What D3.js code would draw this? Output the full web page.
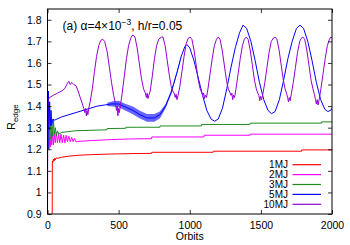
<!DOCTYPE html>
<html>
<head>
<meta charset="utf-8">
<script src="https://cdn.jsdelivr.net/npm/d3@7"></script>
<style>
    body { margin: 0; background: #fff; }
    text { font-family: "Liberation Sans", Arial, sans-serif; fill: #000; }
    .tick-label { font-size: 10.5px; }
</style>
</head>
<body>
<svg id="chart"></svg>
<script>
// ---- data: [orbit, R_edge] ----
const seriesNames = ['1MJ', '2MJ', '3MJ', '5MJ', '10MJ'];
const seriesColors = ['#ff0000', '#ff00ff', '#1f8a1f', '#0000ff', '#9400d3'];

const xTicks = [0, 500, 1000, 1500, 2000];
const yTicks = [0.9, 1.0, 1.1, 1.2, 1.3, 1.4, 1.5, 1.6, 1.7, 1.8];

const data1MJ = [[33, 0.9], [34, 1.145], [38, 1.14], [42, 1.155], [46, 1.145], [50, 1.158], [55, 1.15],
    [60, 1.16], [70, 1.158], [100, 1.163], [150, 1.168], [215, 1.172], [300, 1.175], [451, 1.178],
    [600, 1.18], [732, 1.181], [733, 1.186], [1165, 1.186], [1166, 1.191], [1786, 1.191],
    [1787, 1.197], [2000, 1.197]];

const data2MJ = [[12, 1.20], [15, 1.26], [20, 1.21], [25, 1.27], [30, 1.22], [36, 1.28], [42, 1.22],
    [48, 1.27], [55, 1.23], [62, 1.28], [70, 1.23], [78, 1.27], [86, 1.23], [95, 1.27], [104, 1.23],
    [113, 1.265], [122, 1.23], [131, 1.265], [140, 1.235], [150, 1.26], [160, 1.235], [170, 1.255],
    [180, 1.235], [190, 1.25], [200, 1.235], [210, 1.236], [300, 1.24], [451, 1.245], [600, 1.248],
    [732, 1.249], [733, 1.257], [1100, 1.257], [1101, 1.265], [1423, 1.265], [1424, 1.27], [2000, 1.27]];

const data3MJ = [[8, 1.20], [10, 1.22], [13, 1.30], [17, 1.24], [22, 1.33], [27, 1.25], [32, 1.31],
    [37, 1.26], [42, 1.34], [47, 1.27], [55, 1.30], [62, 1.26], [70, 1.285], [80, 1.27], [100, 1.278],
    [200, 1.286], [418, 1.29], [419, 1.296], [550, 1.297], [551, 1.302], [790, 1.302], [791, 1.308],
    [1083, 1.308], [1084, 1.315], [1423, 1.315], [1424, 1.321], [1927, 1.321], [1928, 1.327], [2000, 1.327]];

const data5MJ = [[5, 1.20], [7, 1.47], [10, 1.29], [15, 1.42], [20, 1.31], [25, 1.38], [30, 1.31],
    [38, 1.34], [50, 1.335], [100, 1.35], [150, 1.36], [200, 1.37], [250, 1.38], [300, 1.39],
    [350, 1.40], [400, 1.405], [450, 1.41], [500, 1.41], [550, 1.395], [600, 1.38], [650, 1.36],
    [700, 1.345], [750, 1.345], [790, 1.36], [830, 1.40], [870, 1.465], [910, 1.555], [940, 1.63],
    [965, 1.675], [980, 1.685], [1000, 1.67], [1030, 1.61], [1060, 1.53], [1090, 1.45], [1120, 1.38],
    [1150, 1.34], [1175, 1.33], [1200, 1.34], [1230, 1.39], [1260, 1.48], [1290, 1.58], [1320, 1.67],
    [1350, 1.74], [1375, 1.775], [1400, 1.76], [1430, 1.70], [1460, 1.61], [1490, 1.51], [1520, 1.43],
    [1550, 1.38], [1575, 1.365], [1600, 1.375], [1630, 1.43], [1660, 1.52], [1690, 1.62], [1720, 1.70],
    [1750, 1.76], [1775, 1.775], [1800, 1.76], [1830, 1.70], [1860, 1.61], [1890, 1.51], [1920, 1.43],
    [1950, 1.385], [1970, 1.375], [1990, 1.38], [2000, 1.39]];

// the noisy stretch of the 5MJ run: [orbit, low, high]
const band5MJ = [[420, 1.40, 1.415], [460, 1.398, 1.422], [500, 1.395, 1.425], [550, 1.378, 1.41],
    [600, 1.362, 1.398], [650, 1.342, 1.378], [700, 1.327, 1.363], [750, 1.327, 1.363], [790, 1.343, 1.375],
    [830, 1.39, 1.41], [870, 1.456, 1.474], [910, 1.548, 1.562], [940, 1.625, 1.635]];

const data10MJ = [[0, 0.9], [2, 1.40], [5, 1.43], [15, 1.44], [40, 1.45], [70, 1.46], [100, 1.47],
    [120, 1.48], [140, 1.505], [150, 1.515], [160, 1.50], [170, 1.51], [185, 1.50], [200, 1.495],
    [215, 1.47], [230, 1.44], [245, 1.41], [255, 1.39], [262, 1.37], [268, 1.39], [273, 1.355],
    [278, 1.38], [284, 1.36], [290, 1.39], [300, 1.42], [315, 1.48], [330, 1.56], [345, 1.63],
    [360, 1.68], [375, 1.705], [388, 1.71], [402, 1.70], [420, 1.65], [435, 1.58], [450, 1.51],
    [465, 1.45], [478, 1.41], [485, 1.38], [490, 1.40], [495, 1.355], [500, 1.39], [505, 1.37],
    [512, 1.40], [525, 1.46], [540, 1.54], [555, 1.62], [570, 1.68], [585, 1.715], [600, 1.73],
    [615, 1.72], [630, 1.67], [645, 1.60], [660, 1.53], [675, 1.48], [688, 1.46], [695, 1.44],
    [700, 1.46], [706, 1.435], [712, 1.45], [722, 1.47], [737, 1.54], [752, 1.62], [767, 1.68],
    [782, 1.71], [800, 1.72], [812, 1.72], [827, 1.68], [842, 1.61], [857, 1.54], [870, 1.49],
    [880, 1.47], [890, 1.46], [898, 1.44], [904, 1.455], [910, 1.43], [918, 1.45], [930, 1.49],
    [945, 1.56], [960, 1.63], [975, 1.69], [990, 1.715], [1002, 1.72],
    [1015, 1.71], [1030, 1.66], [1045, 1.59], [1060, 1.52], [1073, 1.48], [1083, 1.465], [1092, 1.45],
    [1098, 1.46], [1104, 1.435], [1110, 1.45], [1118, 1.44], [1128, 1.48], [1143, 1.55], [1158, 1.62],
    [1173, 1.68], [1188, 1.71], [1200, 1.72],
    [1213, 1.71], [1228, 1.66], [1243, 1.59], [1258, 1.52], [1271, 1.48], [1281, 1.465], [1290, 1.45],
    [1296, 1.46], [1302, 1.43], [1308, 1.45], [1315, 1.44], [1325, 1.48], [1340, 1.55], [1355, 1.62],
    [1370, 1.68], [1384, 1.71], [1396, 1.72],
    [1410, 1.71], [1425, 1.66], [1440, 1.59], [1455, 1.52], [1468, 1.48], [1478, 1.46], [1486, 1.45],
    [1492, 1.425], [1498, 1.445], [1505, 1.43], [1515, 1.46], [1528, 1.51], [1543, 1.58], [1558, 1.65],
    [1573, 1.70], [1588, 1.715], [1600, 1.72],
    [1613, 1.71], [1628, 1.66], [1643, 1.59], [1658, 1.52], [1670, 1.48], [1680, 1.46], [1688, 1.44],
    [1694, 1.42], [1700, 1.44], [1706, 1.425], [1715, 1.46], [1728, 1.51], [1743, 1.58], [1758, 1.65],
    [1773, 1.70], [1785, 1.715], [1795, 1.72],
    [1808, 1.71], [1823, 1.66], [1838, 1.59], [1853, 1.52], [1866, 1.48], [1876, 1.455], [1884, 1.43],
    [1890, 1.41], [1896, 1.43], [1902, 1.405], [1910, 1.43], [1922, 1.48], [1937, 1.55], [1952, 1.62],
    [1967, 1.68], [1982, 1.71], [1992, 1.72], [2000, 1.715]];

class EdgeChart {

    constructor(_config, _series) {
        this.config = {
            parentElement: _config.parentElement,
            containerWidth: 350,
            containerHeight: 245,
            margin: { top: 9, right: 18, bottom: 31, left: 47.5 },
            tickLen: 4
        }
        this.series = _series;
        this.initVis();
    }

    initVis() {
        let vis = this;

        vis.width = vis.config.containerWidth - vis.config.margin.left - vis.config.margin.right;
        vis.height = vis.config.containerHeight - vis.config.margin.top - vis.config.margin.bottom;

        vis.xScale = d3.scaleLinear().domain([0, 2000]).range([0, vis.width]);
        vis.yScale = d3.scaleLinear().domain([0.9, 1.85]).range([vis.height, 0]);

        vis.svg = d3.select(vis.config.parentElement)
            .attr('width', vis.config.containerWidth)
            .attr('height', vis.config.containerHeight);

        vis.chart = vis.svg.append('g')
            .attr('transform', `translate(${vis.config.margin.left},${vis.config.margin.top})`);

        vis.chart.append('clipPath').attr('id', 'plot-clip')
            .append('rect').attr('width', vis.width).attr('height', vis.height);

        vis.marks = vis.chart.append('g').attr('clip-path', 'url(#plot-clip)');

        vis.line = d3.line()
            .x(d => vis.xScale(d[0]))
            .y(d => vis.yScale(d[1]));

        vis.band = d3.area()
            .x(d => vis.xScale(d[0]))
            .y0(d => vis.yScale(d[1]))
            .y1(d => vis.yScale(d[2]));
    }

    renderVis() {
        let vis = this;
        const tl = vis.config.tickLen;

        // curves, drawn 1MJ first so 10MJ sits on top
        vis.series.forEach(s => {
            if (s.band) {
                vis.marks.append('path')
                    .attr('d', vis.band(s.band))
                    .attr('fill', s.color)
                    .attr('fill-opacity', 0.6);
            }
            vis.marks.append('path')
                .attr('d', vis.line(s.values))
                .attr('fill', 'none')
                .attr('stroke', s.color)
                .attr('stroke-width', 1)
                .attr('stroke-linejoin', 'round');
        });

        // axes: ticks point inward and are mirrored, gnuplot style
        const xb = d3.axisBottom(vis.xScale).tickValues(xTicks).tickSize(-tl).tickPadding(tl + 4)
            .tickFormat(d3.format('d'));
        const xt = d3.axisTop(vis.xScale).tickValues(xTicks).tickSize(-tl).tickFormat('');
        const yl = d3.axisLeft(vis.yScale).tickValues(yTicks).tickSize(-tl).tickPadding(tl + 2)
            .tickFormat(d => String(+d.toFixed(1)));
        const yr = d3.axisRight(vis.yScale).tickValues(yTicks).tickSize(-tl).tickFormat('');

        vis.chart.append('g').attr('transform', `translate(0,${vis.height})`).call(xb);
        vis.chart.append('g').call(xt);
        vis.chart.append('g').call(yl);
        vis.chart.append('g').attr('transform', `translate(${vis.width},0)`).call(yr);

        vis.chart.selectAll('.domain').remove();
        vis.chart.selectAll('.tick line').attr('stroke', '#000').attr('stroke-width', 0.8);
        vis.chart.selectAll('.tick text')
            .attr('class', 'tick-label')
            .attr('font-family', null)
            .attr('font-size', null);

        vis.chart.append('rect')
            .attr('width', vis.width)
            .attr('height', vis.height)
            .attr('fill', 'none')
            .attr('stroke', '#000')
            .attr('stroke-width', 1);

        // title
        const title = vis.chart.append('text')
            .attr('x', 15)
            .attr('y', 21)
            .style('font-size', '12px');
        title.append('tspan').text('(a) α=4×10');
        title.append('tspan').attr('dy', -5).style('font-size', '8.5px').text('−3');
        title.append('tspan').attr('dy', 5).text(', h/r=0.05');

        // axis titles
        vis.svg.append('text')
            .attr('x', vis.config.margin.left + vis.width / 2)
            .attr('y', 240)
            .attr('text-anchor', 'middle')
            .style('font-size', '10.5px')
            .text('Orbits');

        const yTitle = vis.svg.append('text')
            .attr('transform', 'translate(15,117) rotate(-90)')
            .attr('text-anchor', 'middle')
            .style('font-size', '10.5px');
        yTitle.append('tspan').text('R');
        yTitle.append('tspan').attr('dy', 3).style('font-size', '8px').text('edge');

        // legend
        const legend = vis.svg.append('g')
            .attr('transform', 'translate(288,164.7)');
        const entry = legend.selectAll('.legend-entry')
            .data(vis.series)
            .join('g')
            .attr('class', 'legend-entry')
            .attr('transform', (d, i) => `translate(0,${i * 9.9})`);
        entry.append('text')
            .attr('y', 3.6)
            .attr('text-anchor', 'end')
            .style('font-size', '10px')
            .text(d => d.name);
        entry.append('line')
            .attr('x1', 4.5).attr('x2', 33)
            .attr('stroke', d => d.color)
            .attr('stroke-width', 1.2);
    }
}

const allValues = [data1MJ, data2MJ, data3MJ, data5MJ, data10MJ];
const series = seriesNames.map((name, i) => ({
    name: name,
    color: seriesColors[i],
    values: allValues[i],
    band: name === '5MJ' ? band5MJ : null
}));

const chart = new EdgeChart({ parentElement: '#chart' }, series);
chart.renderVis();
</script>
</body>
</html>
